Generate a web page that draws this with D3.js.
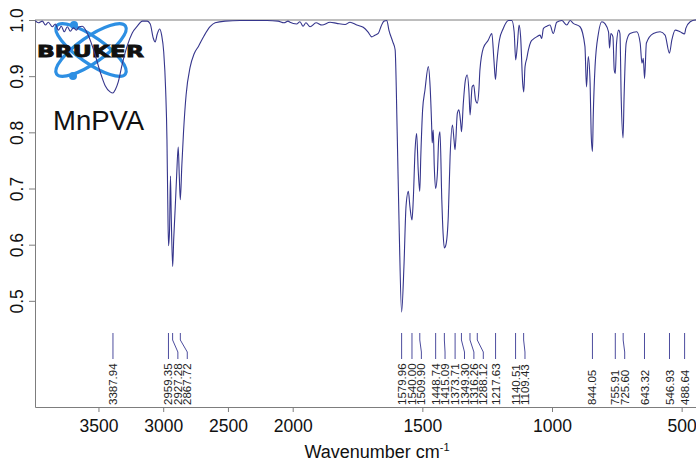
<!DOCTYPE html>
<html>
<head>
<meta charset="utf-8">
<script src="https://cdn.jsdelivr.net/npm/d3@7"></script>
<style>
body { margin: 0; background: #fff; }
svg { display: block; font-family: "Liberation Sans", Arial, sans-serif; }
</style>
</head>
<body>
<div id="chart"></div>
<script>
// spectrum (wavenumber cm-1 / transmittance)
var wavenumber = [3988, 3964, 3933, 3910, 3887, 3856, 3833, 3810, 3787, 3764, 3740, 3717, 3694, 3671, 3648,
    3625, 3579, 3532, 3486, 3448, 3410, 3388, 3370, 3347, 3316, 3278, 3239, 3200, 3161, 3123, 3100,
    3077, 3062, 3046, 3027, 3012, 2996, 2981, 2971, 2965, 2959, 2951, 2944, 2938, 2927, 2919, 2907,
    2896, 2884, 2876, 2868, 2856, 2843, 2823, 2792, 2761, 2728, 2684, 2638, 2599, 2522, 2406, 2198,
    2113, 2067, 2036, 2021, 1985, 1972, 1960, 1949, 1933, 1910, 1887, 1856, 1830, 1798, 1779, 1753,
    1728, 1710, 1695, 1683, 1670, 1659, 1648, 1637, 1629, 1614, 1605, 1597, 1589, 1580, 1571, 1563,
    1554, 1548, 1540, 1535, 1528, 1522, 1516, 1510, 1506, 1499, 1490, 1477, 1470, 1464, 1462, 1458,
    1454, 1449, 1442, 1437, 1432, 1425, 1420, 1415, 1409, 1400, 1393, 1384, 1378, 1374, 1365, 1359,
    1352, 1349, 1342, 1334, 1327, 1320, 1316, 1308, 1302, 1295, 1288, 1282, 1278, 1265, 1246, 1232,
    1224, 1218, 1213, 1203, 1188, 1168, 1155, 1146, 1140, 1134, 1127, 1121, 1113, 1109, 1104, 1097,
    1091, 1082, 1072, 1059, 1046, 1040, 1033, 1020, 1008, 995, 982, 962, 943, 930, 918, 892,
    873, 867, 860, 853, 849, 844, 841, 834, 821, 808, 795, 782, 778, 773, 765, 760,
    756, 751, 743, 738, 733, 726, 722, 714, 699, 673, 660, 653, 648, 643, 636, 609,
    583, 564, 547, 538, 525, 506, 489, 484, 467, 448, 420];
var transmittance = [0.999, 0.995, 0.998, 0.991, 0.996, 0.988, 0.993, 0.982, 0.989, 0.979, 0.988, 0.980, 0.986, 0.982, 0.988,
    0.989, 0.973, 0.943, 0.907, 0.883, 0.872, 0.870, 0.876, 0.890, 0.922, 0.954, 0.977, 0.989, 0.998, 0.998, 0.993,
    0.968, 0.961, 0.975, 0.984, 0.973, 0.943, 0.875, 0.787, 0.680, 0.598, 0.626, 0.722, 0.653, 0.561, 0.609, 0.667,
    0.724, 0.774, 0.724, 0.680, 0.742, 0.801, 0.867, 0.916, 0.940, 0.953, 0.972, 0.988, 0.995, 0.998, 0.999, 0.999,
    0.998, 0.995, 0.998, 0.996, 0.993, 0.997, 0.989, 0.995, 0.988, 0.995, 0.991, 0.996, 0.994, 0.992, 0.996, 0.991,
    0.987, 0.979, 0.970, 0.973, 0.976, 0.989, 0.998, 0.999, 0.982, 0.961, 0.947, 0.799, 0.621, 0.480, 0.561, 0.668,
    0.695, 0.668, 0.644, 0.680, 0.769, 0.798, 0.733, 0.695, 0.757, 0.840, 0.875, 0.917, 0.881, 0.810, 0.781, 0.804,
    0.739, 0.700, 0.727, 0.787, 0.801, 0.680, 0.620, 0.594, 0.600, 0.650, 0.757, 0.813, 0.787, 0.769, 0.834, 0.840,
    0.816, 0.801, 0.852, 0.893, 0.902, 0.870, 0.831, 0.881, 0.884, 0.858, 0.852, 0.875, 0.911, 0.950, 0.964, 0.976,
    0.929, 0.894, 0.923, 0.964, 0.985, 0.999, 0.999, 0.979, 0.929, 0.953, 0.991, 0.970, 0.887, 0.872, 0.917, 0.932,
    0.947, 0.961, 0.966, 0.970, 0.973, 0.967, 0.985, 0.989, 0.991, 0.976, 0.996, 0.999, 0.991, 0.999, 0.994, 0.988,
    0.953, 0.881, 0.935, 0.887, 0.798, 0.766, 0.828, 0.917, 0.976, 0.997, 0.993, 0.979, 0.950, 0.976, 0.970, 0.911,
    0.905, 0.959, 0.982, 0.976, 0.858, 0.790, 0.864, 0.959, 0.976, 0.979, 0.959, 0.923, 0.932, 0.896, 0.959, 0.976,
    0.979, 0.973, 0.941, 0.964, 0.982, 0.979, 0.975, 0.985, 0.997, 1.000, 1.000];

var peaks = [3387.94, 2959.35, 2927.28, 2867.72, 1579.96, 1540.00, 1509.90, 1448.74, 1415.09, 1373.71,
    1349.30, 1316.26, 1288.12, 1217.63, 1140.51, 1109.43, 844.05, 755.91, 725.60, 643.32, 546.93, 488.64];

var xTicks = [3500, 3000, 2500, 2000, 1500, 1000, 500];
var yTicks = [0.5, 0.6, 0.7, 0.8, 0.9, 1.0];

var width = 696, height = 461;
var plotLeft = 35, plotTop = 20, plotBottom = 407;
var axisColor = "#7d7d7d", lineColor = "#35358c";

// OPUS style axis: scale doubles below 2000 cm-1
var xScale = d3.scaleLinear()
    .domain([3990, 2000, 420])
    .range([plotLeft, 292.7, 702.4]);
var yScale = d3.scaleLinear()
    .domain([0.311, 1.0])
    .range([plotBottom, plotTop]);

var svg = d3.select("#chart")
    .append("svg")
    .attr("width", width)
    .attr("height", height);

// logo
var logo = svg.append("g").attr("transform", "translate(91,50)");
[35, -35].forEach(function(a) {
    logo.append("ellipse")
        .attr("rx", 42).attr("ry", 13)
        .attr("transform", "rotate(" + a + ")")
        .attr("fill", "none")
        .attr("stroke", "#2d8fe3")
        .attr("stroke-width", 3.2);
});
logo.append("circle").attr("cx", -18).attr("cy", 26).attr("r", 4).attr("fill", "#2d8fe3");
logo.append("circle").attr("cx", -17).attr("cy", -25).attr("r", 4).attr("fill", "#2d8fe3");
logo.append("text")
    .attr("x", -54).attr("y", 7)
    .attr("textLength", 107)
    .attr("lengthAdjust", "spacingAndGlyphs")
    .style("font-family", "'DejaVu Sans', sans-serif")
    .style("font-weight", "900")
    .style("font-size", "16px")
    .attr("fill", "#111")
    .attr("stroke", "#111")
    .attr("stroke-width", 0.8)
    .text("BRUKER");

svg.append("text")
    .attr("x", 53).attr("y", 130)
    .style("font-size", "27.5px")
    .attr("fill", "#111")
    .text("MnPVA");

// top border
svg.append("line")
    .attr("x1", plotLeft).attr("x2", width)
    .attr("y1", plotTop).attr("y2", plotTop)
    .attr("stroke", axisColor);

// x axis
var xAxis = svg.append("g")
    .attr("transform", "translate(0," + plotBottom + ")")
    .call(d3.axisBottom(xScale).tickValues(xTicks).tickSize(5).tickSizeOuter(0).tickFormat(d3.format("d")));
xAxis.selectAll("path, line").attr("stroke", axisColor);
xAxis.selectAll("text")
    .attr("y", 12.5)
    .style("font-size", "17.5px")
    .style("font-family", "'Liberation Sans', Arial, sans-serif")
    .attr("fill", "#111");

// y axis
var yAxis = svg.append("g")
    .attr("transform", "translate(" + plotLeft + ",0)")
    .call(d3.axisLeft(yScale).tickValues(yTicks).tickSize(6).tickSizeOuter(0).tickFormat(d3.format(".1f")));
yAxis.selectAll("path, line").attr("stroke", axisColor);
yAxis.selectAll("text")
    .attr("x", null)
    .attr("dy", "0.35em")
    .attr("text-anchor", "middle")
    .attr("transform", "translate(-18,0) rotate(-90)")
    .style("font-size", "17.5px")
    .style("font-family", "'Liberation Sans', Arial, sans-serif")
    .attr("fill", "#111");

var xTitle = svg.append("text")
    .attr("x", 377).attr("y", 458)
    .attr("text-anchor", "middle")
    .style("font-size", "18px")
    .attr("fill", "#111");
xTitle.append("tspan").text("Wavenumber cm");
xTitle.append("tspan").attr("dy", -7).style("font-size", "11px").text("-1");

// spectrum
var line = d3.line()
    .x(function(d, i) { return xScale(wavenumber[i]); })
    .y(function(d, i) { return yScale(transmittance[i]); })
    .curve(d3.curveMonotoneX);

svg.append("path")
    .datum(wavenumber)
    .attr("d", line)
    .attr("fill", "none")
    .attr("stroke", lineColor)
    .attr("stroke-width", 1.1);

// peak labels, pushed right when they would overlap
var labelGap = 9.4;
var placed = [];
peaks.slice().sort(d3.descending).forEach(function(p) {
    var px = xScale(p);
    var lx = placed.length ? Math.max(px, placed[placed.length - 1].lx + labelGap) : px;
    placed.push({ p: p, px: px, lx: lx });
});

svg.selectAll(".leader")
    .data(placed)
    .enter().append("path")
    .attr("class", "leader")
    .attr("d", function(d) { return "M" + d.px + ",333V340L" + d.lx + ",352V359"; })
    .attr("fill", "none")
    .attr("stroke", "#4d4d9e")
    .attr("stroke-width", 1);

svg.selectAll(".peak")
    .data(placed)
    .enter().append("text")
    .attr("class", "peak")
    .attr("transform", function(d) { return "translate(" + d.lx + ",405) rotate(-90)"; })
    .attr("dy", "0.35em")
    .style("font-size", "11.5px")
    .attr("fill", "#222")
    .text(function(d) { return d3.format(".2f")(d.p); });
</script>
</body>
</html>
